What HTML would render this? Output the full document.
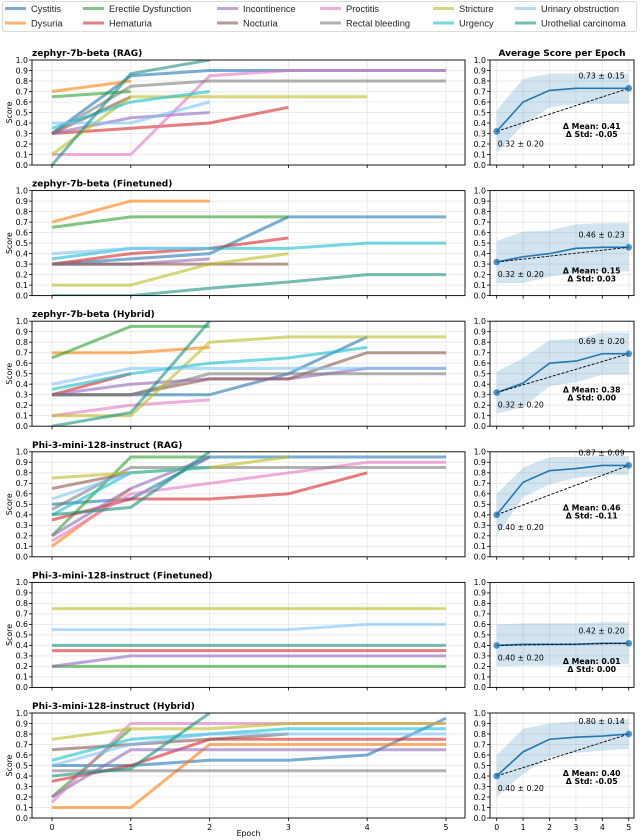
<!DOCTYPE html>
<html><head><meta charset="utf-8"><style>
html,body{margin:0;padding:0;background:#fff;}
svg{display:block;font-family:"DejaVu Sans","Liberation Sans",sans-serif;}
</style></head><body>
<svg id="fig" width="640" height="840" viewBox="0 0 640 840" xmlns="http://www.w3.org/2000/svg">
<g id="legend"></g>
<g id="panels"></g>
</svg>
<script>
const categories = ["Cystitis","Dysuria","Erectile Dysfunction","Hematuria","Incontinence","Nocturia","Proctitis","Rectal bleeding","Stricture","Urgency","Urinary obstruction","Urothelial carcinoma"];
const colors = ["#1f77b4","#ff7f0e","#2ca02c","#d62728","#9467bd","#8c564b","#e377c2","#7f7f7f","#bcbd22","#17becf","#7cc4fa","#17917f"];
const epochs = [0,1,2,3,4,5];
const yTicks = [0,0.1,0.2,0.3,0.4,0.5,0.6,0.7,0.8,0.9,1.0];
const rowTitles = ["zephyr-7b-beta (RAG)","zephyr-7b-beta (Finetuned)","zephyr-7b-beta (Hybrid)","Phi-3-mini-128-instruct (RAG)","Phi-3-mini-128-instruct (Finetuned)","Phi-3-mini-128-instruct (Hybrid)"];

const zephyrRAG = [[0.3,0.85,0.9,0.9,0.9,0.9],[0.7,0.8],[0.65,0.7],[0.3,0.35,0.4,0.55],[0.3,0.45,0.5],[0.3,0.65],[0.1,0.1,0.85,0.9,0.9,0.9],[0.3,0.75,0.8,0.8,0.8,0.8],[0.1,0.65,0.65,0.65,0.65],[0.35,0.6,0.7],[0.4,0.4,0.6],[0.0,0.87,1.0]];
const zephyrFT = [[0.3,0.35,0.4,0.75,0.75,0.75],[0.7,0.9,0.9],[0.65,0.75,0.75,0.75],[0.3,0.4,0.45,0.55],[0.3,0.3,0.35],[0.3,0.3,0.3,0.3],[],[0.3,0.3],[0.1,0.1,0.3,0.4],[0.35,0.45,0.45,0.45,0.5,0.5],[0.4,0.45,0.45],[0,0,0.07,0.13,0.2,0.2]];
const zephyrHyb = [[0.3,0.3,0.3,0.5,0.85],[0.7,0.7,0.75],[0.65,0.95,0.95],[0.3,0.5],[0.3,0.4,0.45,0.45,0.55,0.55],[0.3,0.3,0.45,0.45,0.7,0.7],[0.1,0.2,0.25],[0.3,0.3,0.5,0.5,0.5,0.5],[0.1,0.1,0.8,0.85,0.85,0.85],[0.35,0.5,0.6,0.65,0.75],[0.4,0.55,0.55,0.55,0.55,0.55],[0,0.13,1.0]];
const phiRAG = [[0.5,0.55,0.95,0.95,0.95,0.95],[0.1,0.65],[0.2,0.95,0.95],[0.35,0.55,0.55,0.6,0.8],[0.2,0.65,0.95],[0.65,0.8],[0.15,0.6,0.7,0.8,0.9,0.9],[0.45,0.85,0.85,0.85,0.85,0.85],[0.75,0.8,0.85,0.95],[0.4,0.8,0.85],[0.55,0.8],[0.4,0.47,1.0]];
const phiFT = [[],[],[0.2,0.2,0.2,0.2,0.2,0.2],[0.35,0.35,0.35,0.35,0.35,0.35],[0.2,0.3,0.3,0.3,0.3,0.3],[],[],[],[0.75,0.75,0.75,0.75,0.75,0.75],[],[0.55,0.55,0.55,0.55,0.6,0.6],[0.4,0.4,0.4,0.4,0.4,0.4]];
const phiHyb = [[0.5,0.5,0.55,0.55,0.6,0.95],[0.1,0.1,0.7,0.7,0.7,0.7],[0.2,0.85],[0.35,0.5,0.75,0.75,0.75,0.75],[0.2,0.65,0.65,0.65,0.65,0.65],[0.65,0.7,0.75,0.8],[0.15,0.9,0.9,0.9,0.9,0.9],[0.45,0.45,0.45,0.45,0.45,0.45],[0.75,0.85,0.85,0.9,0.9,0.9],[0.55,0.75,0.8,0.85,0.85,0.85],[0.5,0.7,0.8,0.8,0.8,0.8],[0.4,0.47,1.0]];
const rowSeries = [zephyrRAG,zephyrFT,zephyrHyb,phiRAG,phiFT,phiHyb];

const avgMean = [[0.32,0.6,0.71,0.73,0.73,0.73],[0.32,0.37,0.40,0.45,0.46,0.46],[0.32,0.41,0.60,0.62,0.69,0.69],[0.40,0.71,0.82,0.84,0.87,0.87],[0.40,0.41,0.41,0.41,0.42,0.42],[0.40,0.63,0.75,0.77,0.78,0.80]];
const avgLow = [[0.12,0.38,0.55,0.58,0.58,0.58],[0.12,0.12,0.18,0.22,0.23,0.23],[0.12,0.18,0.38,0.42,0.49,0.49],[0.20,0.57,0.69,0.75,0.78,0.78],[0.20,0.21,0.21,0.21,0.22,0.22],[0.20,0.42,0.58,0.62,0.64,0.66]];
const avgHigh = [[0.52,0.82,0.87,0.87,0.87,0.87],[0.52,0.61,0.62,0.68,0.69,0.69],[0.52,0.65,0.82,0.83,0.89,0.89],[0.60,0.85,0.95,0.95,0.96,0.96],[0.60,0.61,0.61,0.61,0.62,0.62],[0.60,0.85,0.90,0.92,0.93,0.94]];
const startLabels = ["0.32 ± 0.20","0.32 ± 0.20","0.32 ± 0.20","0.40 ± 0.20","0.40 ± 0.20","0.40 ± 0.20"];
const endLabels = ["0.73 ± 0.15","0.46 ± 0.23","0.69 ± 0.20","0.87 ± 0.09","0.42 ± 0.20","0.80 ± 0.14"];
const deltaMean = ["0.41","0.15","0.38","0.46","0.01","0.40"];
const deltaStd = ["-0.05","0.03","0.00","-0.11","0.00","-0.05"];
const deltaY = [0.37,0.24,0.35,0.47,0.25,0.43];

const NS = "http://www.w3.org/2000/svg";
function mk(tag, attrs, parent){const e=document.createElementNS(NS,tag);for(const k in attrs)e.setAttribute(k,attrs[k]);if(parent)parent.appendChild(e);return e;}

// legend
const lg = document.getElementById('legend');
const box = mk('rect',{x:2.5,y:1.5,width:634,height:30,rx:2,fill:'#fff',stroke:'#d0d0d0','stroke-width':0.8},lg);


const colX = [5,83,217,320,433,515];
categories.forEach((c,i)=>{
  const col = Math.floor(i/2), row = i%2;
  const g = mk('g',{},lg);
  
  
  const y = 8.5+row*14.5;
  mk('line',{x1:colX[col],x2:colX[col]+21,y1:y,y2:y,stroke:colors[i],'stroke-width':3,'stroke-opacity':0.6},g);
  const t = mk('text',{x:colX[col]+26,y:y+3.3,'font-size':9.3,fill:'#222','font-family':'Liberation Sans, sans-serif'},g);
  t.textContent = c;
});

const panels = document.getElementById('panels');
const LX0=32, LX1=465, RX0=490, RX1=634;
const lx = e => 52 + e*78.8;
const rx = e => 496.7 + e*26.4;
const rowTop = r => 60 + r*130.6;
const PH = 105;

for(let r=0;r<6;r++){
  const top = rowTop(r), bot = top+PH;
  const yv = v => bot - v*PH;
  // LEFT PANEL
  const gl = mk('g',{},panels);
  
  
  const title = mk('text',{x:LX0,y:top-4,'font-size':9,'font-weight':'bold',fill:'#000'},gl);
  
  
  title.textContent = rowTitles[r];
  yTicks.forEach(v=>{
    mk('line',{x1:LX0,x2:LX1,y1:yv(v),y2:yv(v),stroke:'#e6e6e6','stroke-width':0.8},gl);
    mk('line',{x1:LX0-3,x2:LX0,y1:yv(v),y2:yv(v),stroke:'#000','stroke-width':0.8},gl);
    const t=mk('text',{x:LX0-4,y:yv(v)+2.8,'font-size':7.8,'text-anchor':'end',fill:'#000'},gl);
    t.textContent=v.toFixed(1);
  });
  epochs.forEach(e=>{
    mk('line',{x1:lx(e),x2:lx(e),y1:top,y2:bot,stroke:'#e6e6e6','stroke-width':0.8},gl);
    mk('line',{x1:lx(e),x2:lx(e),y1:bot,y2:bot+3,stroke:'#000','stroke-width':0.8},gl);
    if(r===5){const t=mk('text',{x:lx(e),y:bot+12,'font-size':7.8,'text-anchor':'middle',fill:'#000'},gl);t.textContent=e;}
  });
  const cp = mk('clipPath',{id:'clipL'+r},gl);
  mk('rect',{x:LX0,y:top,width:LX1-LX0,height:PH},cp);
  const series = rowSeries[r];
  const sg = mk('g',{'clip-path':'url(#clipL'+r+')'},gl);
  series.forEach((vals,i)=>{
    if(!vals.length) return;
    const pts = vals.map((v,e)=>lx(epochs[e]).toFixed(1)+','+yv(v).toFixed(1)).join(' ');
    const pl = mk('polyline',{points:pts,fill:'none',stroke:colors[i],'stroke-width':3,'stroke-opacity':0.6,'stroke-linejoin':'round'},sg);
    
    
  });
  mk('rect',{x:LX0,y:top,width:LX1-LX0,height:PH,fill:'none',stroke:'#000','stroke-width':0.9},gl);
  const yl = mk('text',{x:0,y:0,'font-size':7.8,'text-anchor':'middle',transform:`translate(12,${top+PH/2}) rotate(-90)`},gl);
  
  
  yl.textContent='Score';

  // RIGHT PANEL
  const gr = mk('g',{},panels);
  
  
  if(r===0){const t=mk('text',{x:(RX0+RX1)/2,y:top-4,'font-size':9,'font-weight':'bold','text-anchor':'middle'},gr);t.textContent='Average Score per Epoch';}
  yTicks.forEach(v=>{
    mk('line',{x1:RX0,x2:RX1,y1:yv(v),y2:yv(v),stroke:'#e6e6e6','stroke-width':0.8},gr);
    mk('line',{x1:RX0-3,x2:RX0,y1:yv(v),y2:yv(v),stroke:'#000','stroke-width':0.8},gr);
    const t=mk('text',{x:RX0-4,y:yv(v)+2.8,'font-size':7.8,'text-anchor':'end'},gr);
    t.textContent=v.toFixed(1);
  });
  epochs.forEach(e=>{
    mk('line',{x1:rx(e),x2:rx(e),y1:top,y2:bot,stroke:'#e6e6e6','stroke-width':0.8},gr);
    mk('line',{x1:rx(e),x2:rx(e),y1:bot,y2:bot+3,stroke:'#000','stroke-width':0.8},gr);
    if(r===5){const t=mk('text',{x:rx(e),y:bot+12,'font-size':7.8,'text-anchor':'middle'},gr);t.textContent=e;}
  });
  const hi = avgHigh[r], lo = avgLow[r], mean = avgMean[r];
  const bandPts = epochs.map((e,i)=>rx(e)+','+yv(hi[i])).concat(epochs.slice().reverse().map((e)=>rx(e)+','+yv(lo[e]))).join(' ');
  const band = mk('polygon',{points:bandPts,fill:'#1f77b4','fill-opacity':0.2},gr);
  
  
  const ml = mk('polyline',{points:epochs.map((e,i)=>rx(e)+','+yv(mean[i])).join(' '),fill:'none',stroke:'#1f77b4','stroke-width':1.6},gr);
  
  
  const last = epochs.length-1;
  const dl = mk('line',{x1:rx(0),y1:yv(mean[0]),x2:rx(epochs[last]),y2:yv(mean[last]),stroke:'#000','stroke-width':0.9,'stroke-dasharray':'3,1.5'},gr);
  
  
  [0,last].forEach(i=>{
    const c=mk('circle',{cx:rx(epochs[i]),cy:yv(mean[i]),r:3.3,fill:'#1f77b4','fill-opacity':0.8},gr);
    
    
  });
  const sl=mk('text',{x:rx(0)+1,y:yv(mean[0])+15,'font-size':7.8},gr);
  
  
  sl.textContent=startLabels[r];
  const el=mk('text',{x:rx(5)-4,y:yv(mean[last])-10,'font-size':7.8,'text-anchor':'end'},gr);
  
  
  el.textContent=endLabels[r];
  const d1=mk('text',{x:rx(3.6),y:yv(deltaY[r])+3,'font-size':7.8,'font-weight':'bold','text-anchor':'middle'},gr);
  
  
  d1.textContent='Δ Mean: '+deltaMean[r];
  const d2=mk('text',{x:rx(3.6),y:yv(deltaY[r])+11,'font-size':7.8,'font-weight':'bold','text-anchor':'middle'},gr);
  
  
  d2.textContent='Δ Std: '+deltaStd[r];
  mk('rect',{x:RX0,y:top,width:RX1-RX0,height:PH,fill:'none',stroke:'#000','stroke-width':0.9},gr);
}
const xl = mk('text',{x:(LX0+LX1)/2,y:836,'font-size':7.8,'text-anchor':'middle'},panels);


xl.textContent='Epoch';
</script>
</body></html>
